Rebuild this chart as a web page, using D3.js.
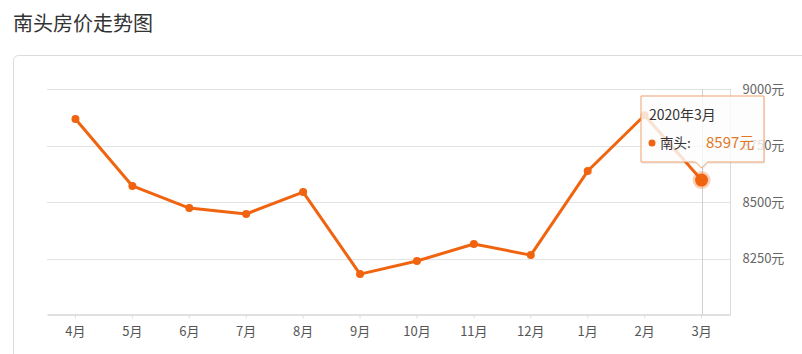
<!DOCTYPE html>
<html>
<head>
<meta charset="utf-8">
<style>
  body { margin: 0; background: #fff; font-family: "Noto Sans CJK SC", "Noto Sans", sans-serif; }
  svg { display: block; }
</style>
</head>
<body>
<svg width="802" height="354"></svg>
<script src="https://d3js.org/d3.v7.min.js"></script>
<script>
  // data
  const months = ["4月", "5月", "6月", "7月", "8月", "9月", "10月", "11月", "12月", "1月", "2月", "3月"];
  const prices = [8867, 8571, 8473, 8447, 8544, 8181, 8239, 8314, 8265, 8637, 8884, 8597];
  const yTicks = [8250, 8500, 8750, 9000];
  const seriesName = "南头";
  const tipTitle = "2020年3月";

  const orange = "#f06410";
  const svg = d3.select("svg");

  // title + outer panel
  svg.append("text")
    .attr("x", 13).attr("y", 31)
    .attr("font-size", 20).attr("fill", "#333")
    .text("南头房价走势图");

  svg.append("rect")
    .attr("x", 13.5).attr("y", 55.5)
    .attr("width", 820).attr("height", 330)
    .attr("rx", 5)
    .attr("fill", "#fff").attr("stroke", "#dcdcdc");

  const x = d3.scaleBand().domain(months).range([47, 730]);
  const y = d3.scaleLinear().domain([8000, 9000]).range([315, 89]);
  const cx = m => x(m) + x.bandwidth() / 2;

  // grid lines
  svg.append("g")
    .selectAll("line")
    .data(yTicks)
    .join("line")
    .attr("x1", 47).attr("x2", 730)
    .attr("y1", d => Math.round(y(d)) + 0.5).attr("y2", d => Math.round(y(d)) + 0.5)
    .attr("stroke", "#e3e3e3");

  // right axis
  const yAxis = svg.append("g")
    .attr("transform", "translate(730.5,0)")
    .call(d3.axisRight(y).tickValues(yTicks).tickSize(0).tickPadding(12).tickFormat(d => d + "元"));
  yAxis.select(".domain").attr("stroke", "#dcdcdc").attr("d", "M0,89V315");
  yAxis.selectAll("text").attr("font-size", 13).attr("fill", "#666")
    .attr("font-family", "'Noto Sans CJK SC', sans-serif");

  // bottom axis
  const xAxis = svg.append("g")
    .attr("transform", "translate(0,314.5)")
    .call(d3.axisBottom(x).tickSize(4).tickSizeOuter(0).tickPadding(8));
  xAxis.select(".domain").attr("stroke", "#d6d6d6").attr("stroke-width", 1.5);
  xAxis.selectAll(".tick line").attr("stroke", "#ddd");
  xAxis.selectAll("text").attr("font-size", 13).attr("fill", "#555")
    .attr("font-family", "'Noto Sans CJK SC', sans-serif");

  // axis pointer on last month
  const last = months.length - 1;
  svg.append("line")
    .attr("x1", Math.round(cx(months[last])) + 0.5).attr("x2", Math.round(cx(months[last])) + 0.5)
    .attr("y1", 89).attr("y2", 315)
    .attr("stroke", "#d0d0d0");

  // line + points
  const line = d3.line().x((d, i) => cx(months[i])).y(d => y(d));
  svg.append("path")
    .datum(prices)
    .attr("d", line)
    .attr("fill", "none")
    .attr("stroke", orange)
    .attr("stroke-width", 3)
    .attr("stroke-linejoin", "round");

  svg.append("g")
    .selectAll("circle")
    .data(prices)
    .join("circle")
    .attr("cx", (d, i) => cx(months[i]))
    .attr("cy", d => y(d))
    .attr("r", 4)
    .attr("fill", orange);

  // highlighted point
  svg.append("circle")
    .attr("cx", cx(months[last])).attr("cy", y(prices[last]))
    .attr("r", 9).attr("fill", orange).attr("opacity", 0.3);
  svg.append("circle")
    .attr("cx", cx(months[last])).attr("cy", y(prices[last]))
    .attr("r", 6.5).attr("fill", orange);

  // tooltip
  const px = cx(months[last]);
  const tip = svg.append("g");
  const tx = 641, ty = 96, tw = 123, th = 66;
  const pts = [
    [tx, ty], [tx + tw, ty], [tx + tw, ty + th],
    [px + 6, ty + th], [px, ty + th + 6], [px - 6, ty + th], [tx, ty + th]
  ];
  tip.append("path")
    .attr("d", d3.line()(pts) + "Z")
    .attr("transform", "translate(1,2)")
    .attr("fill", "#000").attr("opacity", 0.06);
  tip.append("path")
    .attr("d", d3.line()(pts) + "Z")
    .attr("fill", "#fff").attr("fill-opacity", 0.82)
    .attr("stroke", "#eea06a").attr("stroke-width", 1);
  tip.append("text")
    .attr("x", tx + 8).attr("y", ty + 24)
    .attr("font-size", 14).attr("fill", "#333")
    .text(tipTitle);
  tip.append("circle")
    .attr("cx", tx + 11).attr("cy", ty + 47)
    .attr("r", 3.5).attr("fill", orange);
  tip.append("text")
    .attr("x", tx + 19).attr("y", ty + 52)
    .attr("font-size", 13.5).attr("fill", "#333")
    .text(seriesName + ":");
  tip.append("text")
    .attr("x", tx + 65).attr("y", ty + 52)
    .attr("font-size", 15).attr("fill", "#e07828")
    .text(prices[last] + "元");
</script>
</body>
</html>
